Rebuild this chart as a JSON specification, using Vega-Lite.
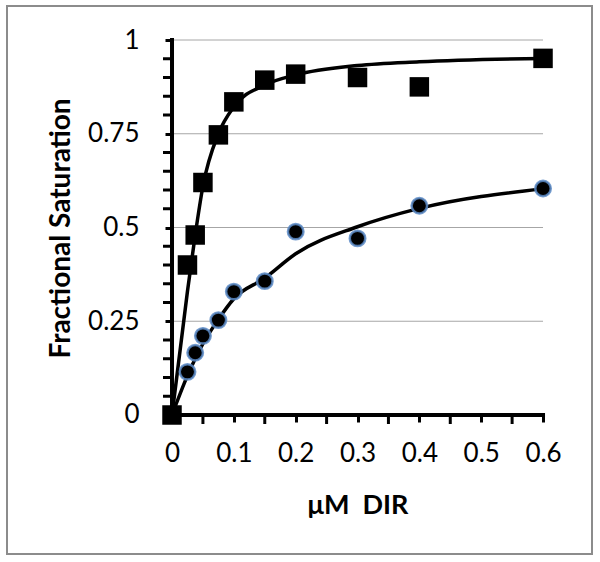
{
  "$schema": "https://vega.github.io/schema/vega-lite/v6.json",
  "width": 585,
  "height": 548,
  "padding": {"left": 7, "top": 6, "right": 8, "bottom": 8},
  "autosize": {"type": "none"},
  "background": "white",
  "config": {"view": {"stroke": "#8c8c8c", "strokeWidth": 2}, "font": "Lato", "axis": {"labelOverlap": false, "labelFlush": false, "labelBound": false}},
  "datasets": {
    "pts": [
      {"series": "squares", "x": 0, "y": 0},
      {"series": "squares", "x": 0.025, "y": 0.40},
      {"series": "squares", "x": 0.0375, "y": 0.48},
      {"series": "squares", "x": 0.05, "y": 0.62},
      {"series": "squares", "x": 0.075, "y": 0.747},
      {"series": "squares", "x": 0.1, "y": 0.835},
      {"series": "squares", "x": 0.15, "y": 0.893},
      {"series": "squares", "x": 0.2, "y": 0.909},
      {"series": "squares", "x": 0.3, "y": 0.90},
      {"series": "squares", "x": 0.4, "y": 0.875},
      {"series": "squares", "x": 0.6, "y": 0.951},
      {"series": "circles", "x": 0, "y": 0},
      {"series": "circles", "x": 0.025, "y": 0.115},
      {"series": "circles", "x": 0.0375, "y": 0.166},
      {"series": "circles", "x": 0.05, "y": 0.211},
      {"series": "circles", "x": 0.075, "y": 0.253},
      {"series": "circles", "x": 0.1, "y": 0.329},
      {"series": "circles", "x": 0.15, "y": 0.357},
      {"series": "circles", "x": 0.2, "y": 0.489},
      {"series": "circles", "x": 0.3, "y": 0.471},
      {"series": "circles", "x": 0.4, "y": 0.558},
      {"series": "circles", "x": 0.6, "y": 0.604}
    ],
    "fit": [
      {"series": "squares", "x": 0, "y": 0},
      {"series": "squares", "x": 0.025, "y": 0.33},
      {"series": "squares", "x": 0.0375, "y": 0.48},
      {"series": "squares", "x": 0.05, "y": 0.61},
      {"series": "squares", "x": 0.075, "y": 0.75},
      {"series": "squares", "x": 0.1, "y": 0.822},
      {"series": "squares", "x": 0.15, "y": 0.88},
      {"series": "squares", "x": 0.2, "y": 0.907},
      {"series": "squares", "x": 0.3, "y": 0.932},
      {"series": "squares", "x": 0.4, "y": 0.942},
      {"series": "squares", "x": 0.6, "y": 0.951},
      {"series": "circles", "x": 0, "y": 0},
      {"series": "circles", "x": 0.025, "y": 0.105},
      {"series": "circles", "x": 0.0375, "y": 0.15},
      {"series": "circles", "x": 0.05, "y": 0.19},
      {"series": "circles", "x": 0.075, "y": 0.255},
      {"series": "circles", "x": 0.1, "y": 0.31},
      {"series": "circles", "x": 0.15, "y": 0.365},
      {"series": "circles", "x": 0.2, "y": 0.43},
      {"series": "circles", "x": 0.3, "y": 0.502},
      {"series": "circles", "x": 0.4, "y": 0.551},
      {"series": "circles", "x": 0.6, "y": 0.603}
    ],
    "grid": [{"y": 0.25}, {"y": 0.5}, {"y": 0.75}, {"y": 1}],
    "yminor": [{"y": 0.05}, {"y": 0.1}, {"y": 0.15}, {"y": 0.2}, {"y": 0.3}, {"y": 0.35}, {"y": 0.4}, {"y": 0.45}, {"y": 0.55}, {"y": 0.6}, {"y": 0.65}, {"y": 0.7}, {"y": 0.8}, {"y": 0.85}, {"y": 0.9}, {"y": 0.95}],
    "xminor": [{"x": 0.05}, {"x": 0.15}, {"x": 0.25}, {"x": 0.35}, {"x": 0.45}, {"x": 0.55}]
  },
  "layer": [
    {
      "data": {"name": "pts"},
      "transform": [{"filter": "datum.series == 'nothing'"}],
      "mark": {"type": "point", "opacity": 0},
      "encoding": {
        "x": {
          "field": "x", "type": "quantitative",
          "scale": {"domain": [-0.26685, 0.6792], "nice": false, "zero": false},
          "axis": {
            "values": [0, 0.1, 0.2, 0.3, 0.4, 0.5, 0.6],
            "format": ".1~f",
            "labelFontSize": 26,
            "domain": false, "grid": false,
            "tickSize": 7, "tickWidth": 3, "tickColor": "black",
            "offset": -139,
            "labelFont": "Lato", "labelColor": "black", "labelPadding": 18,
            "labelFlush": false, "labelOverlap": false,
            "title": "μM\u00a0\u00a0DIR", "titleFont": "Lato", "titleFontSize": 27, "titleFontWeight": "bold", "titleColor": "black",
            "titlePadding": 26, "titleX": 350.5
          }
        },
        "y": {
          "field": "y", "type": "quantitative",
          "scale": {"domain": [-0.37067, 1.09067], "nice": false, "zero": false},
          "axis": {
            "values": [0, 0.25, 0.5, 0.75, 1],
            "format": ".2~f",
            "labelFontSize": 26,
            "domain": false, "grid": false,
            "tickSize": 7, "tickWidth": 3, "tickColor": "black",
            "offset": -165,
            "labelFont": "Lato", "labelColor": "black", "labelPadding": 26,
            "labelFlush": false, "labelOverlap": false,
            "title": "Fractional Saturation", "titleFont": "Lato", "titleFontSize": 28, "titleFontWeight": "bold", "titleColor": "black",
            "titlePadding": 12, "titleY": 222
          }
        }
      }
    },
    {
      "data": {"name": "grid"},
      "mark": {"type": "rule", "color": "#a6a6a6", "strokeWidth": 1},
      "encoding": {
        "x": {"datum": 0, "type": "quantitative", "scale": {"domain": [-0.26685, 0.6792], "nice": false, "zero": false}},
        "x2": {"datum": 0.6},
        "y": {"field": "y", "type": "quantitative", "scale": {"domain": [-0.37067, 1.09067], "nice": false, "zero": false}}
      }
    },
    {
      "data": {"name": "yminor"},
      "mark": {"type": "tick", "orient": "horizontal", "color": "black", "thickness": 3, "size": 7, "xOffset": -5.5, "opacity": 1},
      "encoding": {
        "x": {"datum": 0, "type": "quantitative", "scale": {"domain": [-0.26685, 0.6792], "nice": false, "zero": false}},
        "y": {"field": "y", "type": "quantitative", "scale": {"domain": [-0.37067, 1.09067], "nice": false, "zero": false}}
      }
    },
    {
      "data": {"name": "xminor"},
      "mark": {"type": "tick", "orient": "vertical", "color": "black", "thickness": 3, "size": 7, "yOffset": 5.5, "opacity": 1},
      "encoding": {
        "x": {"field": "x", "type": "quantitative", "scale": {"domain": [-0.26685, 0.6792], "nice": false, "zero": false}},
        "y": {"datum": 0, "type": "quantitative", "scale": {"domain": [-0.37067, 1.09067], "nice": false, "zero": false}}
      }
    },
    {
      "data": {"values": [{}]},
      "mark": {"type": "rule", "color": "black", "strokeWidth": 4, "strokeCap": "square"},
      "encoding": {
        "x": {"datum": 0, "type": "quantitative", "scale": {"domain": [-0.26685, 0.6792], "nice": false, "zero": false}},
        "x2": {"datum": 0.6},
        "y": {"datum": 0, "type": "quantitative", "scale": {"domain": [-0.37067, 1.09067], "nice": false, "zero": false}}
      }
    },
    {
      "data": {"values": [{}]},
      "mark": {"type": "rule", "color": "black", "strokeWidth": 4, "strokeCap": "square"},
      "encoding": {
        "x": {"datum": 0, "type": "quantitative", "scale": {"domain": [-0.26685, 0.6792], "nice": false, "zero": false}},
        "y": {"datum": 0, "type": "quantitative", "scale": {"domain": [-0.37067, 1.09067], "nice": false, "zero": false}},
        "y2": {"datum": 1}
      }
    },
    {
      "data": {"name": "fit"},
      "mark": {"type": "line", "color": "black", "strokeWidth": 3.5, "interpolate": "monotone"},
      "encoding": {
        "x": {"field": "x", "type": "quantitative", "scale": {"domain": [-0.26685, 0.6792], "nice": false, "zero": false}},
        "y": {"field": "y", "type": "quantitative", "scale": {"domain": [-0.37067, 1.09067], "nice": false, "zero": false}},
        "detail": {"field": "series"}
      }
    },
    {
      "data": {"name": "pts"},
      "transform": [{"filter": "datum.series == 'circles'"}],
      "mark": {"type": "point", "shape": "circle", "filled": true, "fill": "black", "stroke": "#5b8ac6", "strokeWidth": 2.5, "strokeOpacity": 0.85, "size": 240, "opacity": 1},
      "encoding": {
        "x": {"field": "x", "type": "quantitative", "scale": {"domain": [-0.26685, 0.6792], "nice": false, "zero": false}},
        "y": {"field": "y", "type": "quantitative", "scale": {"domain": [-0.37067, 1.09067], "nice": false, "zero": false}}
      }
    },
    {
      "data": {"name": "pts"},
      "transform": [{"filter": "datum.series == 'squares'"}],
      "mark": {"type": "point", "shape": "square", "filled": true, "fill": "black", "size": 380, "opacity": 1},
      "encoding": {
        "x": {"field": "x", "type": "quantitative", "scale": {"domain": [-0.26685, 0.6792], "nice": false, "zero": false}},
        "y": {"field": "y", "type": "quantitative", "scale": {"domain": [-0.37067, 1.09067], "nice": false, "zero": false}}
      }
    }
  ]
}
